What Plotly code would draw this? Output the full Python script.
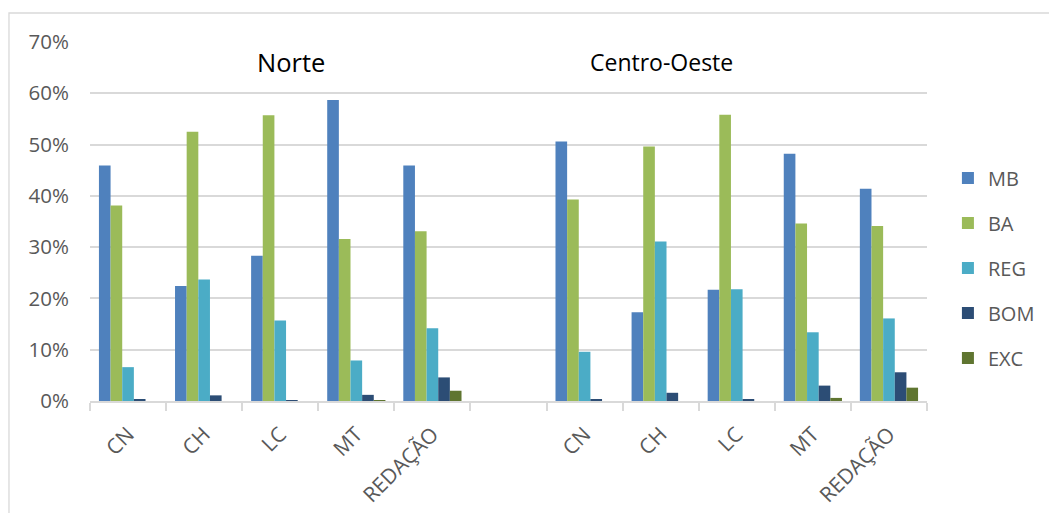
import plotly.graph_objects as go

# Subject areas per region; slot 5 is an empty separator between the two regions
subjects = ["CN", "CH", "LC", "MT", "REDAÇÃO"]
regions = ["Norte", "Centro-Oeste"]
levels = ["MB", "BA", "REG", "BOM", "EXC"]
colors = ["#4F81BD", "#9BBB59", "#4BACC6", "#2C4D75", "#5F7530"]

# Share of participants per proficiency level (%)
norte_mb = [45.9, 22.4, 28.3, 58.7, 45.9]
norte_ba = [38.1, 52.5, 55.7, 31.6, 33.1]
norte_reg = [6.6, 23.7, 15.7, 7.9, 14.2]
norte_bom = [0.25, 1.1, 0.1, 1.2, 4.6]
norte_exc = [0.0, 0.0, 0.0, 0.15, 2.0]

co_mb = [50.6, 17.3, 21.7, 48.2, 41.4]
co_ba = [39.3, 49.6, 55.8, 34.6, 34.1]
co_reg = [9.6, 31.1, 21.8, 13.4, 16.1]
co_bom = [0.3, 1.6, 0.3, 3.0, 5.6]
co_exc = [0.0, 0.0, 0.0, 0.6, 2.6]

norte = [norte_mb, norte_ba, norte_reg, norte_bom, norte_exc]
centro = [co_mb, co_ba, co_reg, co_bom, co_exc]

x_pos = [0, 1, 2, 3, 4, 6, 7, 8, 9, 10]
tick_text = subjects + subjects

FONT = "Open Sans"
GRAY = "#595959"
GRID = "#d9d9d9"

fig = go.Figure()
for i, lvl in enumerate(levels):
    vals = [v / 100 for v in norte[i] + centro[i]]
    fig.add_trace(go.Bar(
        x=x_pos, y=vals, name=lvl, legendgroup=lvl,
        marker=dict(color=colors[i], line=dict(width=0)),
    ))

fig.update_layout(
    width=1049, height=513,
    margin=dict(l=90, r=122, t=42, b=112, autoexpand=False),
    paper_bgcolor="white", plot_bgcolor="white",
    barmode="group", bargap=0.235, bargroupgap=0,
    font=dict(family=FONT, color=GRAY, size=18),
    legend=dict(
        x=1.025, y=0.3705, xanchor="left", yanchor="middle",
        font=dict(family=FONT, size=20, color=GRAY),
        tracegroupgap=16, bgcolor="rgba(0,0,0,0)",
    ),
    showlegend=True,
)

fig.update_xaxes(
    range=[-0.5, 10.5],
    tickmode="array", tickvals=x_pos, ticktext=tick_text,
    tickangle=-45, ticks="", ticklen=0,
    tickfont=dict(family=FONT, size=21, color=GRAY),
    showgrid=False, zeroline=False,
    showline=True, linecolor=GRID, linewidth=1.5,
    minor=dict(tickvals=[k - 0.5 for k in range(12)], ticks="outside",
               ticklen=8, tickcolor=GRID, tickwidth=1.5, showgrid=False),
    ticklabelstandoff=11,
)
fig.update_yaxes(
    range=[0, 0.7], dtick=0.1, tickformat=".0%",
    showgrid=True, gridcolor=GRID, gridwidth=1.5,
    zeroline=False, showline=False,
    tickfont=dict(family=FONT, size=20.5, color=GRAY),
    ticklabelstandoff=20,
)

# Region titles above each group of bars
title_sizes = [25.5, 23]
for name, xp, ts in zip(regions, [0.240, 0.683], title_sizes):
    fig.add_annotation(
        text=name, xref="paper", yref="paper", x=xp, y=0.944,
        showarrow=False, font=dict(family=FONT, size=ts, color="#000000"),
        xanchor="center", yanchor="middle",
    )

# Chart frame
fig.add_shape(
    type="rect", xref="paper", yref="paper",
    x0=-0.0968, x1=1.16, y0=-0.35, y1=1.0808,
    line=dict(color=GRID, width=1.3), fillcolor="rgba(0,0,0,0)", layer="below",
)

fig.write_html("out.html")
